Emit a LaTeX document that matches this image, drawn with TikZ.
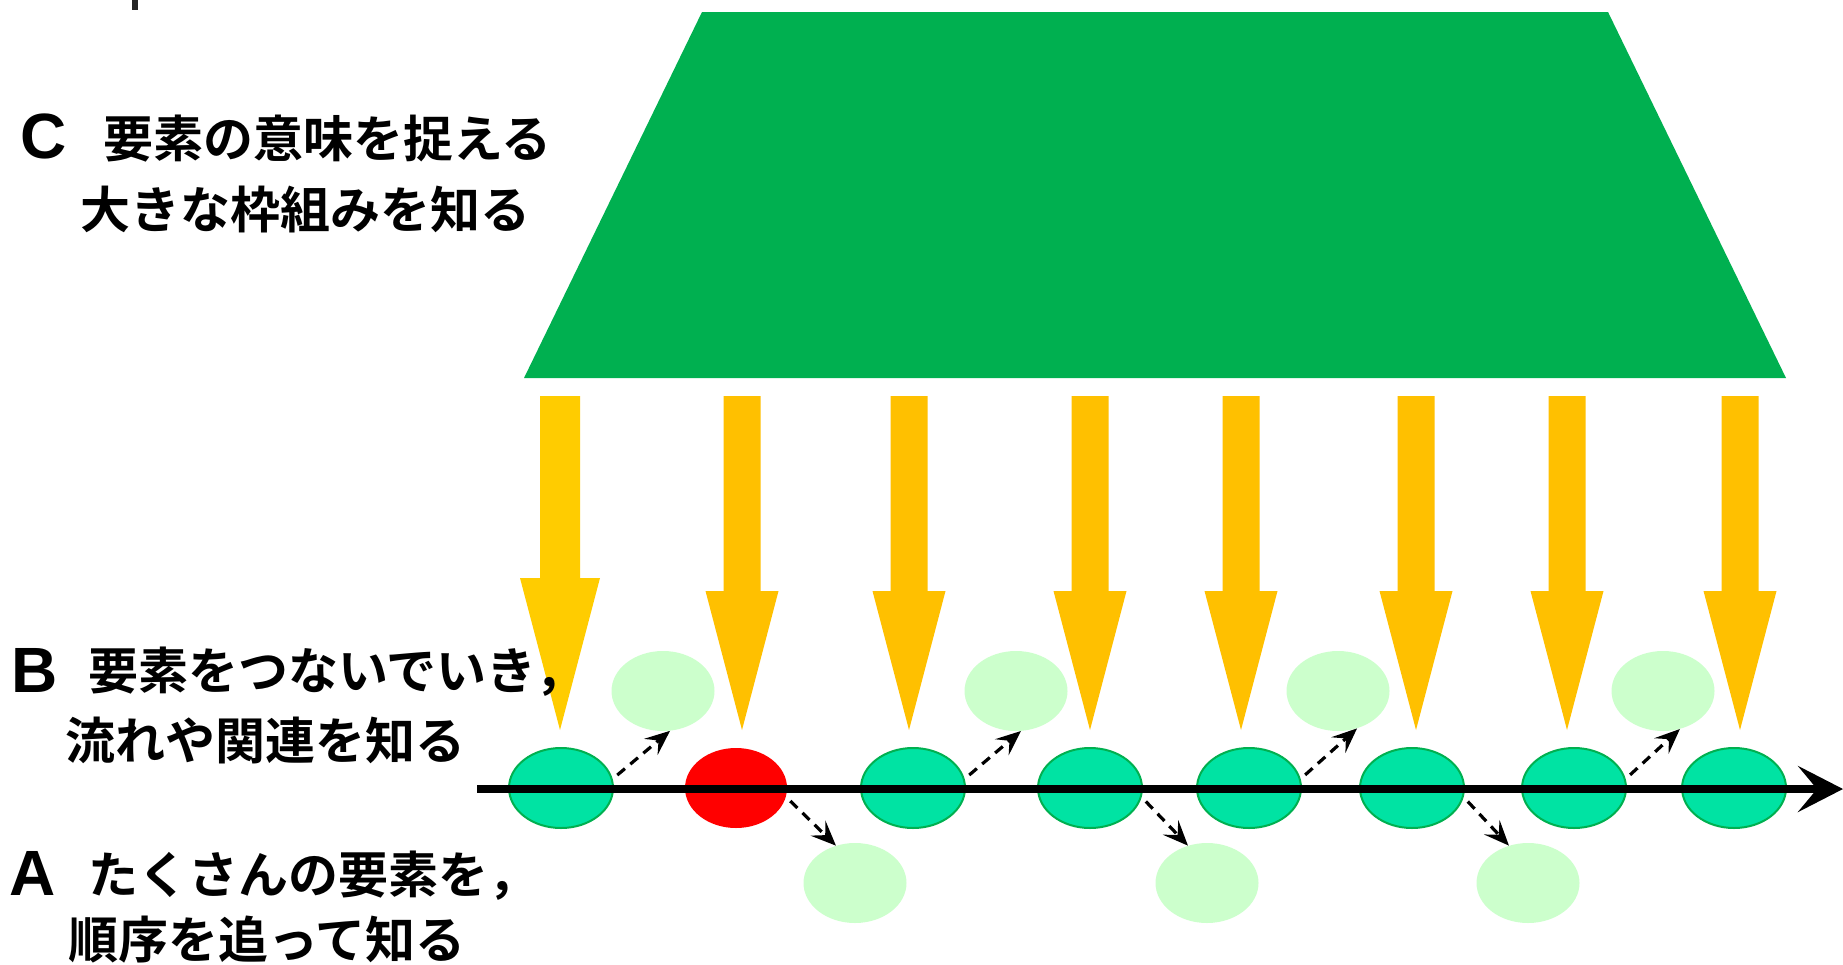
\documentclass[tikz,border=0pt]{standalone}
\usepackage{fontspec}
\setmainfont{Liberation Sans}
\newfontfamily\jp{Noto Sans CJK JP Bold}
\usetikzlibrary{shapes.geometric,arrows.meta}
\definecolor{trapgreen}{HTML}{00B050}
\definecolor{arrowA}{HTML}{FFCC00}
\definecolor{arrowB}{HTML}{FFC000}
\definecolor{elemfill}{HTML}{00E3A3}
\definecolor{elemline}{HTML}{00B050}
\definecolor{ghost}{HTML}{CCFFCC}
\tikzset{
  elem/.style={ellipse, inner sep=0pt, minimum width=104pt, minimum height=80pt, fill=elemfill, draw=elemline, line width=2pt},
  redelem/.style={ellipse, inner sep=0pt, minimum width=102pt, minimum height=80pt, fill=red},
  ghostelem/.style={ellipse, inner sep=0pt, minimum width=103pt, minimum height=80pt, fill=ghost},
  jptext/.style={anchor=west, inner sep=0pt, font=\jp\fontsize{50}{60}\selectfont},
  lettertext/.style={anchor=west, inner sep=0pt, font=\bfseries\fontsize{64}{70}\selectfont},
  dasharrow/.style={line width=3.2pt, dash pattern=on 10pt off 7pt, shorten <=6pt, -{Stealth[length=25pt,width=21pt,inset=10pt]}},
  mainline/.style={line width=8pt, -{Stealth[length=45pt,width=46pt,inset=19pt]}}
}
\begin{document}
\begin{tikzpicture}[x=1pt,y=-1pt]
\useasboundingbox (0,0) rectangle (1843,964);
\fill[white] (0,0) rectangle (1843,964);
\fill[black!85] (132,0) rectangle (138,10);
% framework trapezoid
\fill[trapgreen] (702,12) -- (1608,12) -- (1786,378) -- (524,378) -- cycle;
% yellow arrows
\fill[arrowA] (540,396) -- (580,396) -- (580,578) -- (600,578) -- (560,730) -- (520,578) -- (540,578) -- cycle;
\foreach \x in {742,909,1090,1241,1416,1567,1740}{
  \fill[arrowB] (\x-18.5,396) -- (\x+18.5,396) -- (\x+18.5,591) -- (\x+36.5,591) -- (\x,730) -- (\x-36.5,591) -- (\x-18.5,591) -- cycle;
}
% elements on the line
\node[elem] (e1) at (561,788) {};
\node[redelem] (e2) at (736,788) {};
\node[elem] (e3) at (913,788) {};
\node[elem] (e4) at (1090,788) {};
\node[elem] (e5) at (1249,788) {};
\node[elem] (e6) at (1412,788) {};
\node[elem] (e7) at (1574,788) {};
\node[elem] (e8) at (1734,788) {};
% ghost elements
\node[ghostelem] (u1) at (663,691) {};
\node[ghostelem] (u2) at (1016,691) {};
\node[ghostelem] (u3) at (1338,691) {};
\node[ghostelem] (u4) at (1663,691) {};
\node[ghostelem] (d1) at (855,883) {};
\node[ghostelem] (d2) at (1207,883) {};
\node[ghostelem] (d3) at (1528,883) {};
% main line
\coordinate (ls) at (477,789);
\coordinate (le) at (1843,789);
\draw[mainline] (ls) -- (le);
% dashed arrows
\draw[dasharrow] (e1.10) -- (u1.-80);
\draw[dasharrow] (e3.10) -- (u2.-83);
\draw[dasharrow] (e5.10) -- (u3.-63);
\draw[dasharrow] (e7.10) -- (u4.-66);
\draw[dasharrow] (e2.-10) -- (d1.117);
\draw[dasharrow] (e4.-10) -- (d2.117);
\draw[dasharrow] (e6.-10) -- (d3.117);
% texts
\node[lettertext] (lc) at (20,136) {C};
\node[jptext] (c1) at (103,139) {要素の意味を捉える};
\node[jptext] (c2) at (80,209) {大きな枠組みを知る};
\node[lettertext] (lb) at (11,670) {B};
\node[jptext] (b1) at (88,672) {要素をつないでいき，};
\node[jptext] (b2) at (65,740) {流れや関連を知る};
\node[lettertext] (la) at (9,873) {A};
\node[jptext] (a1) at (88,876) {たくさんの要素を，};
\node[jptext] (a2) at (68,940) {順序を追って知る};
\end{tikzpicture}
\end{document}
